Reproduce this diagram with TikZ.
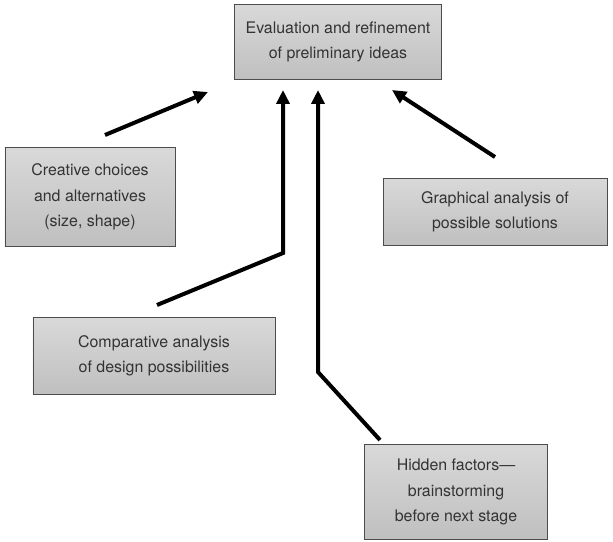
\documentclass[tikz,border=0pt]{standalone}
\usepackage{fontspec}
\setmainfont{TeX Gyre Heros}
\usepackage{tikz}
\usetikzlibrary{arrows.meta}

\tikzset{
  idea/.style={draw=black!70, line width=0.8pt, top color=gray!30, bottom color=gray!50,
    align=center, inner sep=2pt, text=black!80, font=\fontsize{16}{25.5}\selectfont},
  feed/.style={line width=4bp, -{Triangle[length=14bp,width=13bp]}}
}

\begin{document}
\begin{tikzpicture}[x=1bp,y=-1bp]
			
			\useasboundingbox (0,0) rectangle (613,542);
			
			% le cinque caselle
			\node[idea, minimum width=207bp, minimum height=75bp] (eval) at (338,42) {Evaluation and refinement\\of preliminary ideas};
			\node[idea, minimum width=170bp, minimum height=99bp] (creative) at (90,197) {Creative choices\\and alternatives\\(size, shape)};
			\node[idea, minimum width=224bp, minimum height=67bp] (graphical) at (495,212) {Graphical analysis of\\possible solutions};
			\node[idea, minimum width=242bp, minimum height=77bp] (compar) at (154,356) {Comparative analysis\\of design possibilities};
			\node[idea, minimum width=183bp, minimum height=95bp] (hidden) at (456,492) {Hidden factors---\\brainstorming\\before next stage};
			
			% estremi liberi delle frecce
			\coordinate (cr) at (105,135);
			\coordinate (crtip) at (208,92);
			\coordinate (co) at (157,305);
			\coordinate (cobend) at (283,253);
			\coordinate (cotip) at (283,90);
			\coordinate (hi) at (380,440);
			\coordinate (hibend) at (318,372);
			\coordinate (hitip) at (318,90);
			\coordinate (gr) at (495,157);
			\coordinate (grtip) at (392,90);
			
			% frecce verso la casella in alto
			\draw[feed] (cr) -- (crtip);
			\draw[feed] (co) -- (cobend) -- (cotip);
			\draw[feed] (hi) -- (hibend) -- (hitip);
			\draw[feed] (gr) -- (grtip);
			
		\end{tikzpicture}
\end{document}
